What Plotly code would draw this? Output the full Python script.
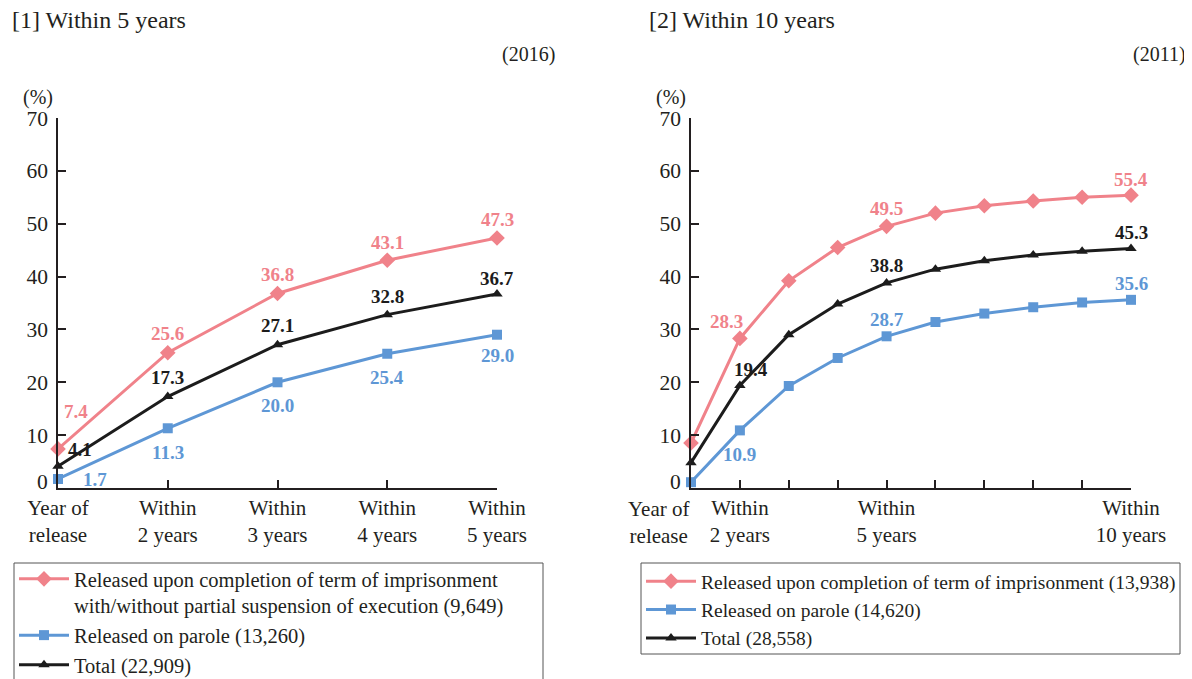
import plotly.graph_objects as go

# ---------------- data ----------------
cats_5 = ["Year of<br>release", "Within<br>2 years", "Within<br>3 years", "Within<br>4 years", "Within<br>5 years"]
completion_5 = [7.4, 25.6, 36.8, 43.1, 47.3]
parole_5 = [1.7, 11.3, 20.0, 25.4, 29.0]
total_5 = [4.1, 17.3, 27.1, 32.8, 36.7]

cats_10 = ["Year of<br>release", "Within<br>2 years", "", "", "Within<br>5 years", "", "", "", "", "Within<br>10 years"]
completion_10 = [8.5, 28.3, 39.2, 45.5, 49.5, 52.0, 53.4, 54.3, 55.0, 55.4]
parole_10 = [1.1, 10.9, 19.3, 24.6, 28.7, 31.4, 33.0, 34.2, 35.1, 35.6]
total_10 = [4.8, 19.4, 29.0, 34.8, 38.8, 41.4, 43.0, 44.1, 44.8, 45.3]

y_ticks = [0, 10, 20, 30, 40, 50, 60, 70]

# which points carry a value label (index list)
labelled_5 = [0, 1, 2, 3, 4]
labelled_10 = [1, 4, 9]

names_5 = ["Released upon completion of term of imprisonment<br>with/without partial suspension of execution (9,649)",
           "Released on parole (13,260)", "Total (22,909)"]
names_10 = ["Released upon completion of term of imprisonment (13,938)",
            "Released on parole (14,620)", "Total (28,558)"]

# ---------------- styles ----------------
PINK = "#F0828A"
BLUE = "#5E97D5"
BLACK = "#1C1C1C"
FONT = "Liberation Serif"
TXT = "#231F20"

# the page adds an 8px body margin, so the figure is laid out in page pixels minus that offset
OFF = 8
W, H = 1192 - OFF, 679 - OFF

def px_x(p):
    return (p - OFF) / W

def px_y(p):
    return 1 - (p - OFF) / H

fig = go.Figure()

series_style = [
    (PINK, "diamond", 12),
    (BLUE, "square", 10),
    (BLACK, "triangle-up", 10),
]

def add_series(xa, ya, xs, ys_list, names, legend):
    for ys, name, (col, sym, sz) in zip(ys_list, names, series_style):
        fig.add_trace(go.Scatter(
            x=xs, y=ys, name=name, mode="lines+markers",
            line=dict(color=col, width=3),
            marker=dict(color=col, symbol=sym, size=sz),
            xaxis=xa, yaxis=ya, cliponaxis=False, legend=legend,
        ))

x5 = list(range(len(cats_5)))
x10 = list(range(len(cats_10)))
add_series("x", "y", x5, [completion_5, parole_5, total_5], names_5, "legend")
add_series("x2", "y2", x10, [completion_10, parole_10, total_10], names_10, "legend2")

# label offsets (pixels) per series/point
off5 = {
    0: [(18, -37), (0, -19), (0, -19), (0, -18), (0, -18)],
    1: [(37, 0), (0, 24), (0, 23), (0, 24), (0, 21)],
    2: [(22, -17), (0, -19), (0, -19), (0, -18), (0, -16)],
}
off10 = {
    0: {1: (-13, -17), 4: (0, -18), 9: (0, -16)},
    1: {1: (0, 24), 4: (0, -17), 9: (0, -16)},
    2: {1: (11, -16), 4: (0, -17), 9: (0, -16)},
}
colors = [PINK, BLUE, BLACK]

ann = []
for s, ys in enumerate([completion_5, parole_5, total_5]):
    for k, i in enumerate(labelled_5):
        dx, dy = off5[s][k]
        ann.append(dict(x=x5[i], y=ys[i], xref="x", yref="y", text=f"{ys[i]:.1f}",
                        showarrow=False, xshift=dx, yshift=-dy,
                        font=dict(family=FONT, size=19, color=colors[s], weight="bold")))
for s, ys in enumerate([completion_10, parole_10, total_10]):
    for i in labelled_10:
        dx, dy = off10[s][i]
        ann.append(dict(x=x10[i], y=ys[i], xref="x2", yref="y2", text=f"{ys[i]:.1f}",
                        showarrow=False, xshift=dx, yshift=-dy,
                        font=dict(family=FONT, size=19, color=colors[s], weight="bold")))

# right chart "Year of release" label shifted left
ann.append(dict(x=0, y=0, xref="x2", yref="y2", text="Year of<br>release", showarrow=False,
                xshift=-33, yshift=-34, yanchor="middle",
                font=dict(family=FONT, size=21, color=TXT)))

# the "0" tick label sits a little above the axis line in the reference
for xa, ya in (("x", "y"), ("x2", "y2")):
    ann.append(dict(x=0, y=y_ticks[0], xref=xa, yref=ya, text=str(y_ticks[0]), showarrow=False,
                    xanchor="right", yanchor="middle", xshift=-8, yshift=6,
                    font=dict(family=FONT, size=21.5, color=TXT)))

# titles and notes
ann += [
    dict(x=px_x(10), y=px_y(20), xref="paper", yref="paper", text="[1] Within 5 years",
         xanchor="left", yanchor="middle", showarrow=False, font=dict(family=FONT, size=24, color=TXT)),
    dict(x=px_x(647), y=px_y(20), xref="paper", yref="paper", text="[2] Within 10 years",
         xanchor="left", yanchor="middle", showarrow=False, font=dict(family=FONT, size=24, color=TXT)),
    dict(x=px_x(557), y=px_y(55), xref="paper", yref="paper", text="(2016)",
         xanchor="right", yanchor="middle", showarrow=False, font=dict(family=FONT, size=20, color=TXT)),
    dict(x=px_x(1188), y=px_y(55), xref="paper", yref="paper", text="(2011)",
         xanchor="right", yanchor="middle", showarrow=False, font=dict(family=FONT, size=20, color=TXT)),
    dict(x=px_x(38), y=px_y(98), xref="paper", yref="paper", text="(%)",
         xanchor="center", yanchor="middle", showarrow=False, font=dict(family=FONT, size=20, color=TXT)),
    dict(x=px_x(671), y=px_y(98), xref="paper", yref="paper", text="(%)",
         xanchor="center", yanchor="middle", showarrow=False, font=dict(family=FONT, size=20, color=TXT)),
]

# legend frames
shapes = [
    dict(type="rect", xref="paper", yref="paper", x0=px_x(14), x1=px_x(543), y0=px_y(700), y1=px_y(563),
         line=dict(color="#555", width=1), fillcolor="rgba(0,0,0,0)", layer="below"),
    dict(type="rect", xref="paper", yref="paper", x0=px_x(641), x1=px_x(1180), y0=px_y(654), y1=px_y(563),
         line=dict(color="#555", width=1), fillcolor="rgba(0,0,0,0)", layer="below"),
]

ydom = [px_y(488), px_y(118)]
common_x = dict(showgrid=False, zeroline=False, showline=True, linecolor="#231F20", linewidth=1.5,
                ticks="inside", ticklen=8, tickcolor="#231F20", tickwidth=1.5, automargin=False,
                tickfont=dict(family=FONT, size=21, color=TXT), fixedrange=True)
common_y = dict(showgrid=False, zeroline=False, showline=True, linecolor="#231F20", linewidth=1.5,
                ticks="inside", ticklen=8, tickcolor="#231F20", tickwidth=1.5, range=[0, 70],
                tickvals=y_ticks, ticktext=[""] + [str(v) for v in y_ticks[1:]],
                ticklabelstandoff=4, automargin=False,
                tickfont=dict(family=FONT, size=21.5, color=TXT), fixedrange=True)

legend_common = dict(xanchor="left", yanchor="top", borderwidth=0, bgcolor="rgba(0,0,0,0)",
                     valign="top", itemwidth=50, tracegroupgap=0)

fig.update_layout(
    width=W, height=H,
    margin=dict(l=0, r=0, t=0, b=0, autoexpand=False),
    paper_bgcolor="white", plot_bgcolor="white",
    showlegend=True,
    xaxis=dict(domain=[px_x(58), px_x(497)], range=[0, len(cats_5) - 1],
               tickvals=x5, ticktext=cats_5, anchor="y", **common_x),
    yaxis=dict(domain=ydom, anchor="x", **common_y),
    xaxis2=dict(domain=[px_x(691), px_x(1131)], range=[0, len(cats_10) - 1],
                tickvals=x10, ticktext=[""] + cats_10[1:], anchor="y2", **common_x),
    yaxis2=dict(domain=ydom, anchor="x2", **common_y),
    legend=dict(x=px_x(14), y=px_y(559), font=dict(family=FONT, size=20.5, color=TXT), **legend_common),
    legend2=dict(x=px_x(641), y=px_y(562), font=dict(family=FONT, size=19.5, color=TXT), **legend_common),
    annotations=ann,
    shapes=shapes,
)

fig.write_html("out.html")
